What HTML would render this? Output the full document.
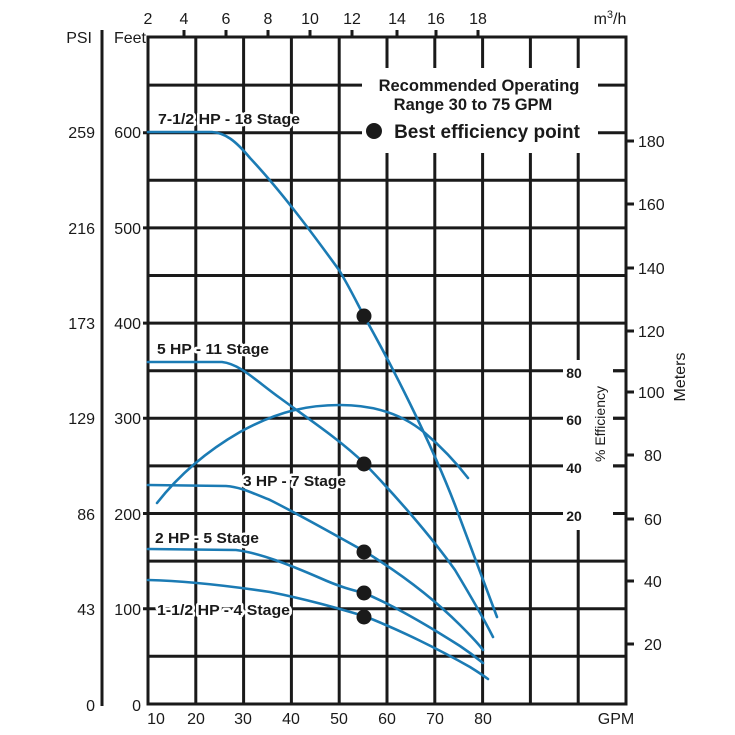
<!DOCTYPE html>
<html><head><meta charset="utf-8"><style>
html,body{margin:0;padding:0;background:#fff;}
svg{display:block;font-family:"Liberation Sans",sans-serif;}
</style></head><body>
<svg width="735" height="735" viewBox="0 0 735 735" xmlns="http://www.w3.org/2000/svg">
<g stroke="#1a1a1a" stroke-width="3" fill="none">
<path d="M148 85.1H626M148 132.7H626M148 180.3H626M148 227.9H626M148 275.5H626M148 323.1H626M148 370.7H626M148 418.3H626M148 465.9H626M148 513.5H626M148 561.1H626M148 608.7H626M148 656.3H626"/>
<path d="M195.8 37V704M243.6 37V704M291.4 37V704M339.2 37V704M387 37V704M434.8 37V704M482.6 37V704M530.4 37V704M578.2 37V704"/>
<path d="M148 37H626V704H148Z"/>
<path d="M102 30V706"/>
</g>
<rect x="362" y="68" width="236" height="85" fill="#fff"/>
<rect x="563" y="360" width="50" height="170" fill="#fff"/>
<g stroke="#1a1a1a" stroke-width="3">
<path d="M613 370.7H626M613 418.3H626M613 465.9H626M613 513.5H626"/>
<path d="M184 30V37M226 30V37M268 30V37M310 30V37M352 30V37M397 30V37M436 30V37M478 30V37"/>
<path d="M626 141H634M626 204H634M626 268H634M626 331H634M626 392H634M626 455H634M626 519H634M626 581H634M626 644H634"/>
<path d="M143 132.7H148M143 227.9H148M143 323.1H148M143 418.3H148M143 513.5H148M143 608.7H148"/>
</g>
<g stroke="#1b7bb4" stroke-width="2.6" fill="none" stroke-linecap="round">
<path d="M148 132 L212 132 C225 133 235 140 250 158 C280 190 310 230 339 270 C350 288 358 305 364 316 C390 362 430 440 455 505 C470 545 485 585 497 617"/>
<path d="M148 362 L222 362 C240 364 255 380 280 398 C310 420 340 440 364 463 C395 495 430 535 455 570 C470 595 483 617 493 637"/>
<path d="M157 503 C175 480 200 455 240 432 C280 410 310 405 340 405 C370 405 400 412 425 433 C445 450 458 465 468 478"/>
<path d="M148 485 L226 486 C240 487 250 492 270 500 C300 515 335 535 364 551 C395 570 430 595 460 625 C470 635 478 643 483 650"/>
<path d="M148 549 L236 550 C260 553 290 565 320 578 C340 587 352 590 364 593 C395 606 430 627 460 646 C472 654 478 659 483 663"/>
<path d="M148 580 C190 581 230 586 270 592 C310 600 340 609 364 616 C400 630 440 650 470 667 C478 672 484 676 488 679"/>
</g>
<g fill="#1a1a1a">
<circle cx="364" cy="316" r="7.5"/>
<circle cx="364" cy="464" r="7.5"/>
<circle cx="364" cy="552" r="7.5"/>
<circle cx="364" cy="593" r="7.5"/>
<circle cx="364" cy="617" r="7.5"/>
<circle cx="374" cy="131" r="8"/>
</g>
<g font-weight="bold" font-size="15" fill="#1a1a1a" stroke="#fff" stroke-width="5" paint-order="stroke" stroke-linejoin="round">
<text x="158" y="124" textLength="142" lengthAdjust="spacingAndGlyphs">7-1/2 HP - 18 Stage</text>
<text x="157" y="354" textLength="112" lengthAdjust="spacingAndGlyphs">5 HP - 11 Stage</text>
<text x="243" y="486" textLength="103" lengthAdjust="spacingAndGlyphs">3 HP - 7 Stage</text>
<text x="155" y="543" textLength="104" lengthAdjust="spacingAndGlyphs">2 HP - 5 Stage</text>
<text x="157" y="615" textLength="133" lengthAdjust="spacingAndGlyphs">1-1/2 HP - 4 Stage</text>
</g>
<g font-weight="bold" fill="#1a1a1a" text-anchor="middle">
<text x="479" y="91" font-size="16.5">Recommended Operating</text>
<text x="473" y="110" font-size="16.5">Range 30 to 75 GPM</text>
<text x="487" y="138" font-size="19">Best efficiency point</text>
</g>
<g font-size="16" fill="#1a1a1a" text-anchor="middle">
<text x="148" y="24">2</text><text x="184" y="24">4</text><text x="226" y="24">6</text><text x="268" y="24">8</text>
<text x="310" y="24">10</text><text x="352" y="24">12</text><text x="397" y="24">14</text><text x="436" y="24">16</text><text x="478" y="24">18</text>
<text x="610" y="24">m<tspan font-size="11" dy="-6">3</tspan><tspan dy="6">/h</tspan></text>
</g>
<g font-size="16" fill="#1a1a1a" text-anchor="middle">
<text x="156" y="724">10</text><text x="196" y="724">20</text><text x="243" y="724">30</text><text x="291" y="724">40</text>
<text x="339" y="724">50</text><text x="387" y="724">60</text><text x="435" y="724">70</text><text x="483" y="724">80</text>
<text x="616" y="724">GPM</text>
</g>
<g font-size="16" fill="#1a1a1a" text-anchor="end">
<text x="92" y="43">PSI</text>
<text x="146" y="43">Feet</text>
<text x="95" y="138">259</text><text x="95" y="234">216</text><text x="95" y="329">173</text><text x="95" y="424">129</text>
<text x="95" y="520">86</text><text x="95" y="615">43</text><text x="95" y="711">0</text>
<text x="141" y="138">600</text><text x="141" y="234">500</text><text x="141" y="329">400</text><text x="141" y="424">300</text>
<text x="141" y="520">200</text><text x="141" y="615">100</text><text x="141" y="711">0</text>
</g>
<g font-size="16" fill="#1a1a1a" text-anchor="start">
<text x="638" y="147">180</text><text x="638" y="210">160</text><text x="638" y="274">140</text><text x="638" y="337">120</text>
<text x="638" y="398">100</text><text x="644" y="461">80</text><text x="644" y="525">60</text><text x="644" y="587">40</text><text x="644" y="650">20</text>
</g>
<text transform="translate(685,377) rotate(-90)" font-size="16" fill="#1a1a1a" text-anchor="middle">Meters</text>
<g font-size="14" font-weight="bold" fill="#1a1a1a" text-anchor="middle">
<text x="574" y="378">80</text><text x="574" y="425">60</text><text x="574" y="473">40</text><text x="574" y="521">20</text>
</g>
<text transform="translate(605,424) rotate(-90)" font-size="14" fill="#1a1a1a" text-anchor="middle">% Efficiency</text>
</svg>
</body></html>
